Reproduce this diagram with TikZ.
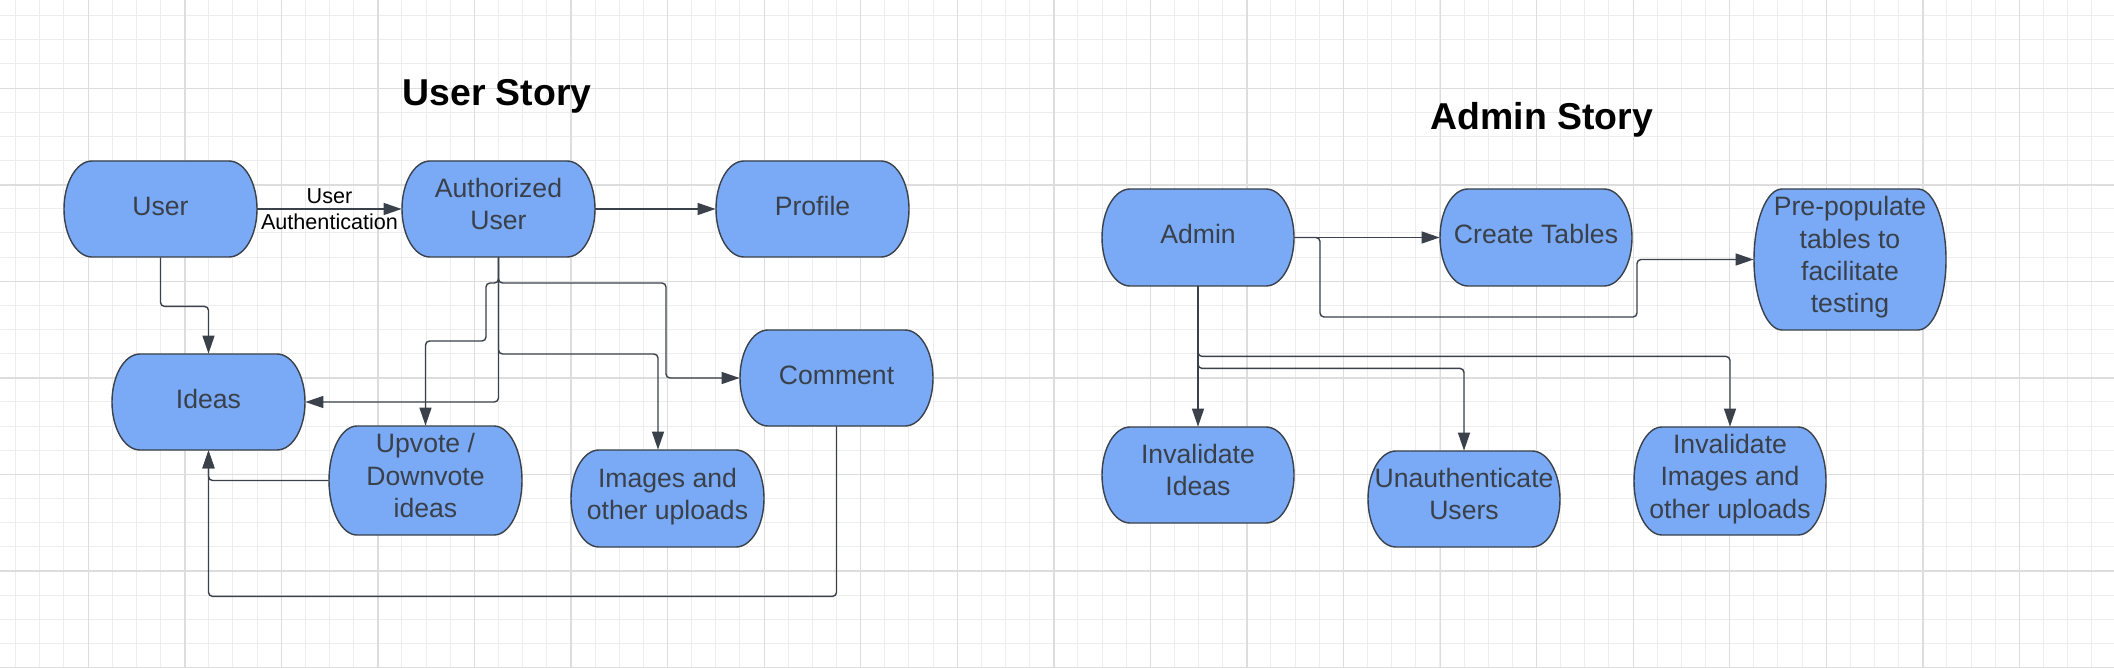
\documentclass[tikz,border=0pt]{standalone}
\usepackage{fontspec}
\setmainfont{Liberation Sans}
\usetikzlibrary{arrows.meta}
\definecolor{gridminor}{HTML}{EDEDED}
\definecolor{gridmajor}{HTML}{DDDDDD}
\definecolor{boxfill}{HTML}{7AAAF6}
\definecolor{linecol}{HTML}{3A414A}
\definecolor{txtcol}{HTML}{394049}
\tikzset{
  boxline/.style={fill=boxfill, draw=linecol, line width=0.7pt},
  boxtext/.style={inner sep=0pt, align=center, text=txtcol,
    font=\fontsize{13.3}{16.2}\selectfont,
    execute at begin node=\strut, execute at end node=\strut},
  conn/.style={draw=linecol, line width=0.7pt, rounded corners=2pt,
    -{Triangle[length=9pt,width=6pt]}},
  lbl/.style={inner sep=0pt, align=center, text=black,
    font=\fontsize{10.8}{13}\selectfont},
  storytitle/.style={inner sep=0pt, text=black,
    font=\bfseries\fontsize{18.7}{22}\selectfont},
}
% #1 name, #2 left, #3 top, #4 right, #5 bottom (px), #6 text
\newcommand\tbox[6]{%
  \pgfmathsetmacro\ryy{(#5-#3)/4}%
  \draw[boxline] (#2+28,#3) -- (#4-28,#3)
    arc[start angle=90,end angle=-90,x radius=14pt,y radius=\ryy pt]
    -- (#2+28,#5)
    arc[start angle=270,end angle=90,x radius=14pt,y radius=\ryy pt] -- cycle;
  \node[boxtext, minimum width={(#4-#2)*0.5pt}, minimum height={(#5-#3)*0.5pt}]
    (#1) at ({(#2+#4)/2},{(#3+#5)/2}) {#6};
}
\begin{document}
\begin{tikzpicture}[x=0.5pt,y=-0.5pt]
\useasboundingbox (0,0) rectangle (2114,668);
\fill[white] (0,0) rectangle (2114,668);
% grid
\foreach \k in {0,...,86}
  \draw[gridminor, line width=0.5pt] ({15.7+24.14*\k},0) -- ({15.7+24.14*\k},668);
\foreach \k in {0,...,27}
  \draw[gridminor, line width=0.5pt] (0,{15.7+24.14*\k}) -- (2114,{15.7+24.14*\k});
\foreach \k in {0,...,21}
  \draw[gridmajor, line width=0.65pt] ({88.3+96.56*\k},0) -- ({88.3+96.56*\k},668);
\foreach \k in {0,...,6}
  \draw[gridmajor, line width=0.65pt] (0,{88.3+96.56*\k}) -- (2114,{88.3+96.56*\k});

% titles
\node[storytitle] (t1) at (497,96) {User Story};
\node[storytitle] (t2) at (1542,120) {Admin Story};

% user story nodes
\tbox{user}{64}{161}{257}{257}{User}
\tbox{auth}{402}{161}{595}{257}{Authorized\\User}
\tbox{profile}{716}{161}{909}{257}{Profile}
\tbox{ideas}{112}{354}{305}{450}{Ideas}
\tbox{upvote}{329}{426}{522}{535}{Upvote /\\Downvote\\ideas}
\tbox{images}{571}{450}{764}{547}{Images and\\other uploads}
\tbox{comment}{740}{330}{933}{426}{Comment}

% admin story nodes
\tbox{admin}{1102}{189}{1294}{286}{Admin}
\tbox{create}{1440}{189}{1632}{286}{Create Tables}
\tbox{prepop}{1754}{189}{1946}{330}{Pre-populate\\tables to\\facilitate\\testing}
\tbox{invideas}{1102}{427}{1294}{523}{Invalidate\\Ideas}
\tbox{unauth}{1368}{451}{1560}{547}{Unauthenticate\\Users}
\tbox{invimages}{1634}{427}{1826}{535}{Invalidate\\Images and\\other uploads}

% user story connectors
\draw[conn] (user.east) -- node[lbl] {User\\Authentication} (auth.west);
\draw[conn] (auth.east) -- (profile.west);
\draw[conn] (user.south) -- ++(0,49) -| (ideas.north);
\draw[conn] (auth.south) |- (666,283) |- (comment.west);
\draw[conn] (auth.south) |- (486,283) -- (486,341) -| (upvote.north);
\draw[conn] (auth.south) |- (658,354) -- ([xshift=-4.75pt]images.north);
\draw[conn] (auth.south) |- (ideas.east);
\draw[conn] (upvote.west) -| (ideas.south);
\draw[conn] (comment.south) -- ++(0,170) -| (ideas.south);

% admin story connectors
\draw[conn] (admin.east) -- (create.west);
\draw[conn] (admin.east) -| (1320,317) -- (1637,317) |- (prepop.west);
\draw[conn] (admin.south) -- (invideas.north);
\draw[conn] (admin.south) -- ++(0,82) -| (unauth.north);
\draw[conn] (admin.south) -- ++(0,70) -| (invimages.north);
\end{tikzpicture}
\end{document}
